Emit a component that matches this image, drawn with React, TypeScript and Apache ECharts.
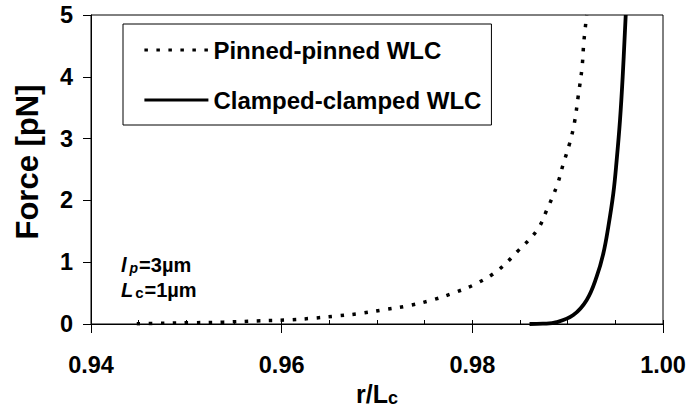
import React, { useEffect, useRef } from "react";
import * as echarts from "echarts";

const FONT = '"Liberation Sans", Arial, sans-serif';

const seriesNames = ["Pinned-pinned WLC", "Clamped-clamped WLC"];

// Pinned-pinned WLC (dotted)
const pinnedX = [
  0.9448, 0.9469, 0.9504, 0.9539, 0.9574, 0.9605, 0.963, 0.9658, 0.9682, 0.9707,
  0.9731, 0.9756, 0.978, 0.9805, 0.9827, 0.9847, 0.9868, 0.9878, 0.9889, 0.9895,
  0.9902, 0.9907, 0.9911, 0.9915, 0.9917, 0.992,
];
const pinnedF = [
  0.005, 0.01, 0.02, 0.03, 0.05, 0.065, 0.09, 0.13, 0.17, 0.23,
  0.29, 0.38, 0.5, 0.66, 0.87, 1.17, 1.52, 1.84, 2.25, 2.57,
  2.92, 3.25, 3.68, 4.14, 4.57, 5.0,
];

// Clamped-clamped WLC (solid)
const clampedX = [
  0.986, 0.9874, 0.98885, 0.99059, 0.992, 0.99304, 0.99374, 0.99426, 0.99479, 0.99514,
  0.99549, 0.99577, 0.99609,
];
const clampedF = [
  0, 0.005, 0.03, 0.146, 0.39, 0.765, 1.14, 1.57, 2.115, 2.65, 3.3, 4.0, 5.0,
];

const xMin = 0.94;
const xMax = 1.0;
const xStep = 0.02;
const yMin = 0;
const yMax = 5;
const yStep = 1;

const yTitle = "Force [pN]";
const annotation1 = ["l", "p", "=3µm"];
const annotation2 = ["L", "c", "=1µm"];

export default function App() {
  const ref = useRef<HTMLDivElement>(null);
  useEffect(() => {
    document.body.style.margin = "0";
    if (!ref.current) return;
    const chart = echarts.init(ref.current, null, { renderer: "svg" });
    const labelStyle = {
      fontFamily: FONT,
      fontSize: 23.5,
      fontWeight: "bold" as const,
      color: "#000",
    };
    const option: any = {
      animation: false,
      backgroundColor: "#fff",
      grid: {
        left: 91,
        right: 26,
        top: 15,
        bottom: 86,
        show: true,
        borderColor: "#000",
        borderWidth: 1,
        backgroundColor: "transparent",
        containLabel: false,
        outerBoundsMode: "none",
      },
      legend: {
        orient: "vertical",
        left: 123,
        top: 24,
        data: seriesNames,
        itemWidth: 64,
        itemHeight: 14,
        itemGap: 24,
        padding: [13, 10, 12, 20],
        borderColor: "#000",
        borderWidth: 1,
        backgroundColor: "#fff",
        selectedMode: false,
        itemStyle: { opacity: 0 },
        lineStyle: { width: 2.8 },
        textStyle: { ...labelStyle, fontSize: 24, lineHeight: 26 },
      },
      xAxis: [
        {
          type: "value",
          min: xMin,
          max: xMax,
          interval: xStep,
          position: "bottom",
          axisLine: { show: true, lineStyle: { color: "#000", width: 1 } },
          axisTick: { show: true, inside: true, length: 4, lineStyle: { color: "#000" } },
          minorTick: { show: true, splitNumber: 4, length: 4, lineStyle: { color: "#000" } },
          splitLine: { show: false },
          axisLabel: {
            ...labelStyle,
            margin: 29,
            formatter: (v: number) => v.toFixed(2),
          },
          name: "{a|r/L}{b|c}",
          nameLocation: "middle",
          nameGap: 58,
          nameTextStyle: {
            rich: {
              a: { fontFamily: FONT, fontSize: 25, fontWeight: "bold", color: "#000", lineHeight: 24, verticalAlign: "bottom" },
              b: { fontFamily: FONT, fontSize: 18, fontWeight: "bold", color: "#000", lineHeight: 11, verticalAlign: "bottom" },
            },
          },
        },
        {
          type: "value",
          min: xMin,
          max: xMax,
          interval: xStep,
          position: "bottom",
          axisLine: { show: false },
          axisTick: { show: true, inside: false, length: 9, lineStyle: { color: "#000" } },
          axisLabel: { show: false },
          splitLine: { show: false },
        },
      ],
      yAxis: {
        type: "value",
        min: yMin,
        max: yMax,
        interval: yStep,
        axisLine: { show: true, lineStyle: { color: "#000", width: 1 } },
        axisTick: { show: true, inside: false, length: 8, lineStyle: { color: "#000" } },
        splitLine: { show: false },
        axisLabel: { ...labelStyle, margin: 18 },
      },
      series: [
        {
          name: seriesNames[0],
          type: "line",
          data: pinnedX.map((x, i) => [x, pinnedF[i]]),
          symbol: "none",
          smooth: 0.4,
          lineStyle: { color: "#000", width: 3.5, type: [3.5, 8.5], cap: "butt" },
          itemStyle: { color: "#000" },
          xAxisIndex: 0,
        },
        {
          name: seriesNames[1],
          type: "line",
          data: clampedX.map((x, i) => [x, clampedF[i]]),
          symbol: "none",
          smooth: 0.4,
          lineStyle: { color: "#000", width: 3.8, type: "solid" },
          itemStyle: { color: "#000" },
          xAxisIndex: 0,
        },
      ],
      graphic: [
        {
          type: "text",
          x: 27,
          y: 162,
          rotation: Math.PI / 2,
          style: {
            text: yTitle,
            fontFamily: FONT,
            fontSize: 31,
            fontWeight: "bold",
            fill: "#000",
            align: "center",
            verticalAlign: "middle",
          },
        },
        {
          type: "text",
          x: 121,
          y: 264,
          style: {
            text: `{i|${annotation1[0]}}{s|${annotation1[1]}}{n|${annotation1[2]}}`,
            align: "left",
            verticalAlign: "middle",
            rich: {
              i: { fontFamily: FONT, fontSize: 20, fontWeight: "bold", fontStyle: "italic", fill: "#000", lineHeight: 22, verticalAlign: "bottom", padding: [0, 3, 0, 0] },
              s: { fontFamily: FONT, fontSize: 14, fontWeight: "bold", fontStyle: "italic", fill: "#000", lineHeight: 12, verticalAlign: "bottom", padding: [0, 1, 0, 0] },
              n: { fontFamily: FONT, fontSize: 20, fontWeight: "bold", fill: "#000", lineHeight: 22, verticalAlign: "bottom" },
            },
          },
        },
        {
          type: "text",
          x: 121,
          y: 289,
          style: {
            text: `{i|${annotation2[0]}}{s|${annotation2[1]}}{n|${annotation2[2]}}`,
            align: "left",
            verticalAlign: "middle",
            rich: {
              i: { fontFamily: FONT, fontSize: 20, fontWeight: "bold", fontStyle: "italic", fill: "#000", lineHeight: 22, verticalAlign: "bottom", padding: [0, 2, 0, 0] },
              s: { fontFamily: FONT, fontSize: 15, fontWeight: "bold", fill: "#000", lineHeight: 12, verticalAlign: "bottom", padding: [0, 1, 0, 0] },
              n: { fontFamily: FONT, fontSize: 20, fontWeight: "bold", fill: "#000", lineHeight: 22, verticalAlign: "bottom" },
            },
          },
        },
      ],
    };
    chart.setOption(option);
    return () => chart.dispose();
  }, []);
  return <div ref={ref} style={{ width: 689, height: 410 }} />;
}
